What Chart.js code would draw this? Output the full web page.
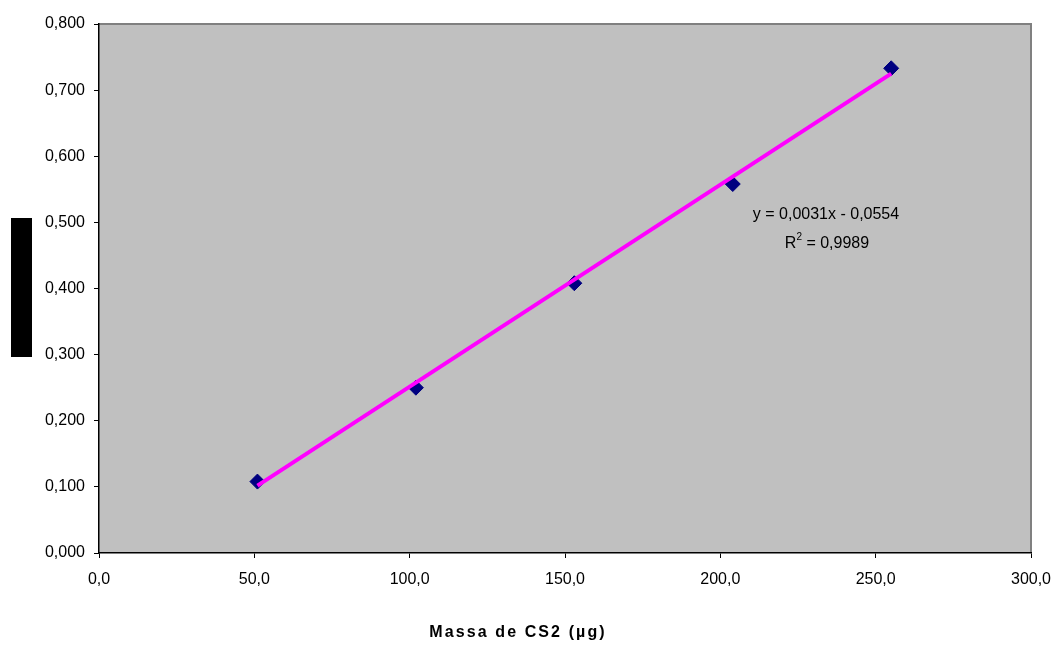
<!DOCTYPE html>
<html>
<head>
<meta charset="utf-8">
<script src="https://cdn.jsdelivr.net/npm/chart.js@4/dist/chart.umd.min.js"></script>
<style>
  html, body { margin: 0; padding: 0; background: #fff; }
  #grafico { display: block; }
</style>
</head>
<body>
<canvas id="grafico" width="1055" height="645"></canvas>
<script>
// Curva de calibração: massa de CS2 vs. leitura
const massas = [51.0, 102.0, 153.0, 204.0, 255.0];
const leituras = [0.108, 0.250, 0.408, 0.558, 0.733];

// Extremos da linha de tendência
const tendenciaX = [51.0, 255.0];
const tendenciaY = [0.102, 0.725];

const equacao = 'y = 0,0031x - 0,0554';
const r2Texto = '0,9989';
const tituloX = 'Massa de CS2 (µg)';

const FONTE = '"Liberation Sans", Arial, sans-serif';

// Fundo cinza da área de plotagem + borda
const fundoPlot = {
    id: 'fundoPlot',
    beforeDraw(chart) {
        const { ctx, chartArea: a } = chart;
        ctx.save();
        ctx.fillStyle = '#c0c0c0';
        ctx.fillRect(a.left, a.top, a.right - a.left, a.bottom - a.top);
        ctx.strokeStyle = '#808080';
        ctx.lineWidth = 2;
        ctx.beginPath();
        ctx.moveTo(a.left, a.top);
        ctx.lineTo(a.right, a.top);
        ctx.lineTo(a.right, a.bottom);
        ctx.stroke();
        ctx.restore();
    }
};

// Textos extras: equação, R² e título do eixo
const textos = {
    id: 'textos',
    afterDraw(chart) {
        const { ctx } = chart;
        ctx.save();
        ctx.fillStyle = '#000';
        ctx.textBaseline = 'middle';

        // caixa preta no lugar do título do eixo Y
        ctx.fillRect(11, 218, 21, 139);

        ctx.font = '16px ' + FONTE;
        ctx.textAlign = 'center';
        ctx.fillText(equacao, 826, 215);

        const r2a = 'R';
        const r2b = ' = ' + r2Texto;
        const wa = ctx.measureText(r2a).width;
        const wb = ctx.measureText(r2b).width;
        ctx.font = '10px ' + FONTE;
        const ws = ctx.measureText('2').width;
        let x0 = 827 - (wa + ws + wb) / 2;
        ctx.textAlign = 'left';
        ctx.font = '16px ' + FONTE;
        ctx.fillText(r2a, x0, 244);
        ctx.font = '10px ' + FONTE;
        ctx.fillText('2', x0 + wa, 237);
        ctx.font = '16px ' + FONTE;
        ctx.fillText(r2b, x0 + wa + ws, 244);

        ctx.font = 'bold 16px ' + FONTE;
        ctx.letterSpacing = '2.1px';
        ctx.textAlign = 'center';
        ctx.fillText(tituloX, 518, 633);
        ctx.restore();
    }
};

const ctx = document.getElementById('grafico').getContext('2d');
new Chart(ctx, {
    type: 'scatter',
    data: {
        datasets: [
            {
                label: 'Linear',
                data: tendenciaX.map((x, i) => ({ x: x, y: tendenciaY[i] })),
                showLine: true,
                borderColor: '#ff00ff',
                borderWidth: 4,
                pointRadius: 0,
                fill: false
            },
            {
                label: 'Leituras',
                data: massas.map((x, i) => ({ x: x, y: leituras[i] })),
                pointStyle: 'rectRot',
                pointRadius: 7.5,
                backgroundColor: '#000080',
                borderColor: '#000080',
                borderWidth: 1
            }
        ]
    },
    options: {
        responsive: false,
        animation: false,
        devicePixelRatio: 1,
        layout: { padding: { top: 24, right: 24, left: 0, bottom: 0 } },
        plugins: {
            legend: { display: false },
            tooltip: { enabled: false }
        },
        scales: {
            x: {
                type: 'linear',
                min: 0,
                max: 300,
                afterFit: s => { s.height = 92; s.paddingLeft = 0; s.paddingRight = 0; },
                ticks: {
                    stepSize: 50,
                    color: '#000',
                    padding: 12,
                    maxRotation: 0,
                    font: { family: FONTE, size: 16 },
                    callback: v => v.toFixed(1).replace('.', ',')
                },
                grid: { drawOnChartArea: false, drawTicks: true, tickLength: 5, color: '#000' },
                border: { display: true, color: '#000', width: 1.5 }
            },
            y: {
                min: 0,
                max: 0.8,
                afterFit: s => { s.width = 99; s.paddingTop = 0; s.paddingBottom = 0; },
                ticks: {
                    stepSize: 0.1,
                    color: '#000',
                    padding: 9,
                    font: { family: FONTE, size: 16 },
                    callback: v => v.toFixed(3).replace('.', ',')
                },
                grid: { drawOnChartArea: false, drawTicks: true, tickLength: 5, color: '#000' },
                border: { display: true, color: '#000', width: 1.5 }
            }
        }
    },
    plugins: [fundoPlot, textos]
});
</script>
</body>
</html>
